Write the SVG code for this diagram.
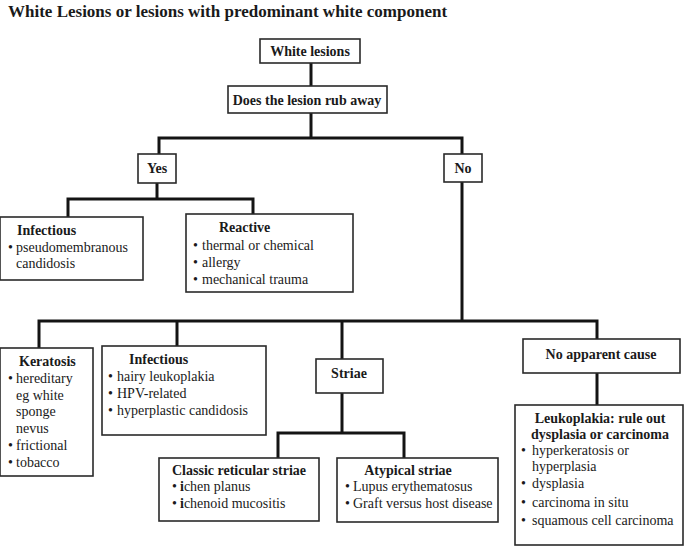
<svg xmlns="http://www.w3.org/2000/svg" width="685" height="547" viewBox="0 0 685 547">
<style>
text{font-family:"Liberation Serif","Times New Roman",serif;font-size:14px;fill:#1a1a1a}
.b{font-weight:bold}
.m{text-anchor:middle}
.box{fill:#fff;stroke:#2a2a2a;stroke-width:1.6}
.c{fill:none;stroke:#141414;stroke-width:3;stroke-linejoin:miter}
.title{font-size:17px;font-weight:bold}
</style>
<rect width="685" height="547" fill="#fff"/>
<text class="title" x="8" y="17">White Lesions or lesions with predominant white component</text>
<g id="connectors">
<path class="c" d="M311 63V86"/>
<path class="c" d="M311 113V138"/>
<path class="c" d="M159 154V138H462V154"/>
<path class="c" d="M157 183V199"/>
<path class="c" d="M68 217V199H253V214"/>
<path class="c" d="M462 182V321"/>
<path class="c" d="M39 348V321H597V339"/>
<path class="c" d="M177 321V346"/>
<path class="c" d="M342 321V359"/>
<path class="c" d="M342 393V433"/>
<path class="c" d="M278 458V433H404V458"/>
<path class="c" d="M597 373V405"/>
</g>
<g id="white-lesions"><rect class="box" x="260" y="39" width="100" height="24"/><text class="b m" x="310" y="56">White lesions</text></g>
<g id="rub-away"><rect class="box" x="228" y="86" width="159" height="27"/><text class="b m" x="307" y="105">Does the lesion rub away</text></g>
<g id="yes"><rect class="box" x="138" y="154" width="38" height="29"/><text class="b m" x="157" y="173">Yes</text></g>
<g id="no"><rect class="box" x="444" y="154" width="38" height="28"/><text class="b m" x="463" y="173">No</text></g>
<g id="infectious-yes"><rect class="box" x="0" y="217" width="143" height="63"/>
<text class="b" x="17" y="235">Infectious</text>
<text x="8" y="252">•</text><text x="16" y="252">pseudomembranous</text>
<text x="16" y="268">candidosis</text></g>
<g id="reactive"><rect class="box" x="186" y="214" width="167" height="78"/>
<text class="b" x="219" y="232">Reactive</text>
<text x="193" y="250">•</text><text x="202" y="250">thermal or chemical</text>
<text x="193" y="267">•</text><text x="202" y="267">allergy</text>
<text x="193" y="284">•</text><text x="202" y="284">mechanical trauma</text></g>
<g id="keratosis"><rect class="box" x="0" y="348" width="93" height="128"/>
<text class="b" x="19" y="366">Keratosis</text>
<text x="8" y="383">•</text><text x="16" y="383">hereditary</text>
<text x="16" y="400">eg white</text>
<text x="16" y="416">sponge</text>
<text x="16" y="433">nevus</text>
<text x="8" y="450">•</text><text x="16" y="450">frictional</text>
<text x="8" y="467">•</text><text x="16" y="467">tobacco</text></g>
<g id="infectious-no"><rect class="box" x="102" y="346" width="164" height="89"/>
<text class="b" x="129" y="364">Infectious</text>
<text x="108" y="381">•</text><text x="117" y="381">hairy leukoplakia</text>
<text x="108" y="398">•</text><text x="117" y="398">HPV-related</text>
<text x="108" y="415">•</text><text x="117" y="415">hyperplastic candidosis</text></g>
<g id="striae"><rect class="box" x="316" y="359" width="67" height="34"/><text class="b m" x="349" y="378">Striae</text></g>
<g id="classic"><rect class="box" x="159" y="458" width="160" height="63"/>
<text class="b m" x="239" y="475">Classic reticular striae</text>
<text x="172" y="491">•</text><text x="180" y="491"><tspan font-weight="bold">i</tspan>chen planus</text>
<text x="172" y="508">•</text><text x="180" y="508"><tspan font-weight="bold">i</tspan>chenoid mucositis</text></g>
<g id="atypical"><rect class="box" x="337" y="458" width="161" height="64"/>
<text class="b m" x="408" y="475">Atypical striae</text>
<text x="345" y="491">•</text><text x="353" y="491">Lupus erythematosus</text>
<text x="345" y="508">•</text><text x="353" y="508">Graft versus host disease</text></g>
<g id="no-apparent-cause"><rect class="box" x="523" y="339" width="157" height="34"/><text class="b m" x="601" y="359">No apparent cause</text></g>
<g id="leukoplakia"><rect class="box" x="515" y="405" width="168" height="140"/>
<text class="b m" x="600" y="423">Leukoplakia: rule out</text>
<text class="b m" x="600" y="439">dysplasia or carcinoma</text>
<text x="521" y="455">•</text><text x="532" y="455">hyperkeratosis or</text>
<text x="532" y="471">hyperplasia</text>
<text x="521" y="488">•</text><text x="532" y="488">dysplasia</text>
<text x="521" y="507">•</text><text x="532" y="507">carcinoma in situ</text>
<text x="521" y="525">•</text><text x="532" y="525">squamous cell carcinoma</text></g>
</svg>
